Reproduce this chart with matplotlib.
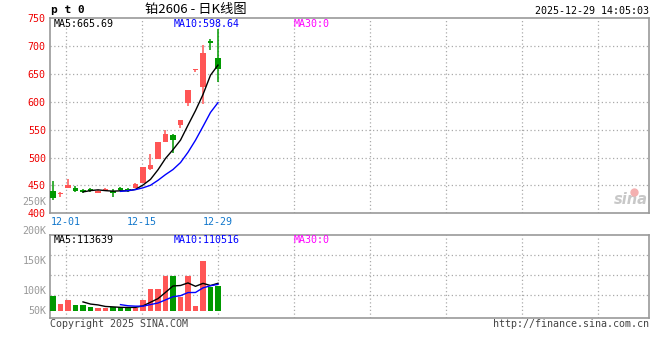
import numpy as np
import pandas as pd
import matplotlib
matplotlib.use('Agg')
import matplotlib.pyplot as plt
import matplotlib.transforms as mtransforms

# DATA
dates = ['11-27', '11-28', '12-01', '12-02', '12-03', '12-04', '12-05', '12-08',
         '12-09', '12-10', '12-11', '12-12', '12-15', '12-16', '12-17', '12-18',
         '12-19', '12-22', '12-23', '12-24', '12-25', '12-26', '12-29']
opens = [440, 434, 445.5, 445.5, 441.5, 443.5, 437, 439.5, 440.5, 445.5, 443.5, 444.5,
         455, 479.5, 498, 528, 540.5, 559, 598.5, 657.5, 626.5, 708.5, 678.5]
highs = [458, 438, 461, 449.5, 443.5, 446, 441, 445.3, 443, 447.5, 445.3, 454.5,
         482.5, 506, 527.5, 549, 543, 568, 620.5, 658, 702.5, 712, 730]
lows = [424, 430, 445.5, 438, 437, 437.5, 437, 439.5, 430, 440, 438.6, 444.5,
        455, 477.5, 498, 528, 507.5, 553.5, 591.5, 653, 595, 692, 634.5]
closes = [428, 434, 450.5, 440.5, 438.5, 440, 440.5, 443.5, 436, 441.5, 440.5, 453,
          482.5, 486.5, 527.5, 542, 531.5, 568, 620.5, 658, 686.5, 704.5, 658.5]
volumes = [91.6, 78.2, 84.9, 76.5, 77, 73.6, 70.9, 71.9, 73.1, 73.1, 72.6, 71.4,
           84.9, 103.4, 103.4, 125.2, 125.2, 89.1, 125, 74.8, 150, 107, 108]  # thousands
price_ticks = [400, 450, 500, 550, 600, 650, 700, 750]
vol_ticks = [50, 100, 150, 200, 250]
vol_base = 67

RED = '#FF5555'
GREEN = '#009900'
GRID = '#AAAAAA'
MONO = 'DejaVu Sans Mono'

df = pd.DataFrame({'open': opens, 'high': highs, 'low': lows, 'close': closes, 'vol': volumes})
df['ma5'] = df['close'].rolling(5).mean()
df['ma10'] = df['close'].rolling(10).mean()
df['vma5'] = df['vol'].rolling(5).mean()
df['vma10'] = df['vol'].rolling(10).mean()
x = np.arange(len(df))
up = df['close'] >= df['open']
colors = np.where(up, RED, GREEN)

fig = plt.figure(figsize=(6.6, 3.6), dpi=100)
fig.patch.set_facecolor('white')


def fpos(px, py):
    return px / 660, 1 - py / 360


ax = fig.add_axes([50 / 660, 1 - 213.3 / 360, 599 / 660, 195.3 / 360])
axv = fig.add_axes([50 / 660, 1 - 318.3 / 360, 599 / 660, 83.6 / 360])

# candle i sits at 53 + 7.5*i px, grid every 76 px, anchored on the last day
xlim = (-0.4, 79.47)
step = 76 / 7.5
grid_x = (len(df) - 1) + step * np.arange(-2, 6)
grid_lab = ['12-01', '12-15', '12-29', '', '', '', '', '']

# price panel
ax.vlines(x, df['low'], df['high'], colors=colors, linewidth=1.1, zorder=3)
body_h = np.maximum((df['close'] - df['open']).abs(), 1.6)
body_b = np.minimum(df['close'], df['open'])
ax.bar(x, body_h, bottom=body_b, width=0.78, color=colors, linewidth=0, zorder=3)
ax.plot(x, df['ma5'], color='black', linewidth=1, zorder=4)
ax.plot(x, df['ma10'], color='#0000FF', linewidth=1, zorder=4)
ax.set_xlim(*xlim)
ax.set_ylim(400, 750)
for gy in price_ticks[1:-1]:
    ax.axhline(gy, color=GRID, linewidth=0.9, linestyle=(0, (1, 2)), zorder=1)
for gx in grid_x:
    ax.axvline(gx, color=GRID, linewidth=0.9, linestyle=(0, (1, 2)), zorder=1)
ax.set_yticks(price_ticks)
ax.set_yticklabels([str(t) for t in price_ticks], color='#EE0000', fontsize=7.2, family=MONO)
ax.set_xticks(grid_x)
ax.set_xticklabels(grid_lab, color='#1177CC', fontsize=7.2, family=MONO)
ax.tick_params(length=0, pad=3)
for s in ax.spines.values():
    s.set_color('#999999')
    s.set_linewidth(1.2)
ax.text(0.998, 0.03, 'sina', transform=ax.transAxes, ha='right', va='bottom',
        fontsize=10.5, style='italic', weight='bold', color='#C8C8C8', zorder=2)
ax.plot([0.975], [0.11], 'o', transform=ax.transAxes, markersize=5,
        markerfacecolor='#F4B0B0', markeredgecolor='#F4B0B0', zorder=2)

# volume panel
axv.bar(x, df['vol'] - vol_base, bottom=vol_base, width=0.78, color=colors, linewidth=0, zorder=3)
axv.plot(x, df['vma5'], color='black', linewidth=1, zorder=4)
axv.plot(x, df['vma10'], color='#0000FF', linewidth=1, zorder=4)
axv.set_xlim(*xlim)
axv.set_ylim(54.1, 194.6)
for f in [0.275, 0.515, 0.755]:
    axv.plot([0, 1], [f, f], transform=axv.transAxes, color=GRID, linewidth=0.9,
             linestyle=(0, (1, 2)), zorder=1)
for gx in grid_x:
    axv.axvline(gx, color=GRID, linewidth=0.9, linestyle=(0, (1, 2)), zorder=1)
axv.set_xticks([])
axv.set_yticks([])
for s in axv.spines.values():
    s.set_color('#999999')
    s.set_linewidth(1.2)
trans = mtransforms.blended_transform_factory(axv.transAxes, axv.transData)
for v in vol_ticks:
    axv.text(-0.006, max(v, vol_base), f'{v}K', transform=trans, ha='right', va='center',
             fontsize=7.2, family=MONO, color='#999999', clip_on=False)

# header / footer texts
fig.text(*fpos(51, 10), 'p t 0', fontsize=8, family=MONO, weight='bold', va='center', ha='left')
fig.text(*fpos(196, 9.5), '铂2606 - 日K线图', fontsize=9.5, family=['Noto Sans CJK SC', 'DejaVu Sans'],
         va='center', ha='center')
fig.text(*fpos(649, 11.5), '2025-12-29 14:05:03', fontsize=7.2, family=MONO, va='center', ha='right')
fig.text(*fpos(54, 24), 'MA5:665.69', fontsize=7.2, family=MONO, va='center', color='black')
fig.text(*fpos(174, 24), 'MA10:598.64', fontsize=7.2, family=MONO, va='center', color='#0000FF')
fig.text(*fpos(294, 24), 'MA30:0', fontsize=7.2, family=MONO, va='center', color='#FF00FF')
fig.text(*fpos(54, 240), 'MA5:113639', fontsize=7.2, family=MONO, va='center', color='black')
fig.text(*fpos(174, 240), 'MA10:110516', fontsize=7.2, family=MONO, va='center', color='#0000FF')
fig.text(*fpos(294, 240), 'MA30:0', fontsize=7.2, family=MONO, va='center', color='#FF00FF')
fig.text(*fpos(50, 324), 'Copyright 2025 SINA.COM', fontsize=7.2, family=MONO, va='center', color='#444444')
fig.text(*fpos(649, 324), 'http://finance.sina.com.cn', fontsize=7.2, family=MONO, va='center',
         ha='right', color='#444444')

fig.savefig('out.png', dpi=100)
